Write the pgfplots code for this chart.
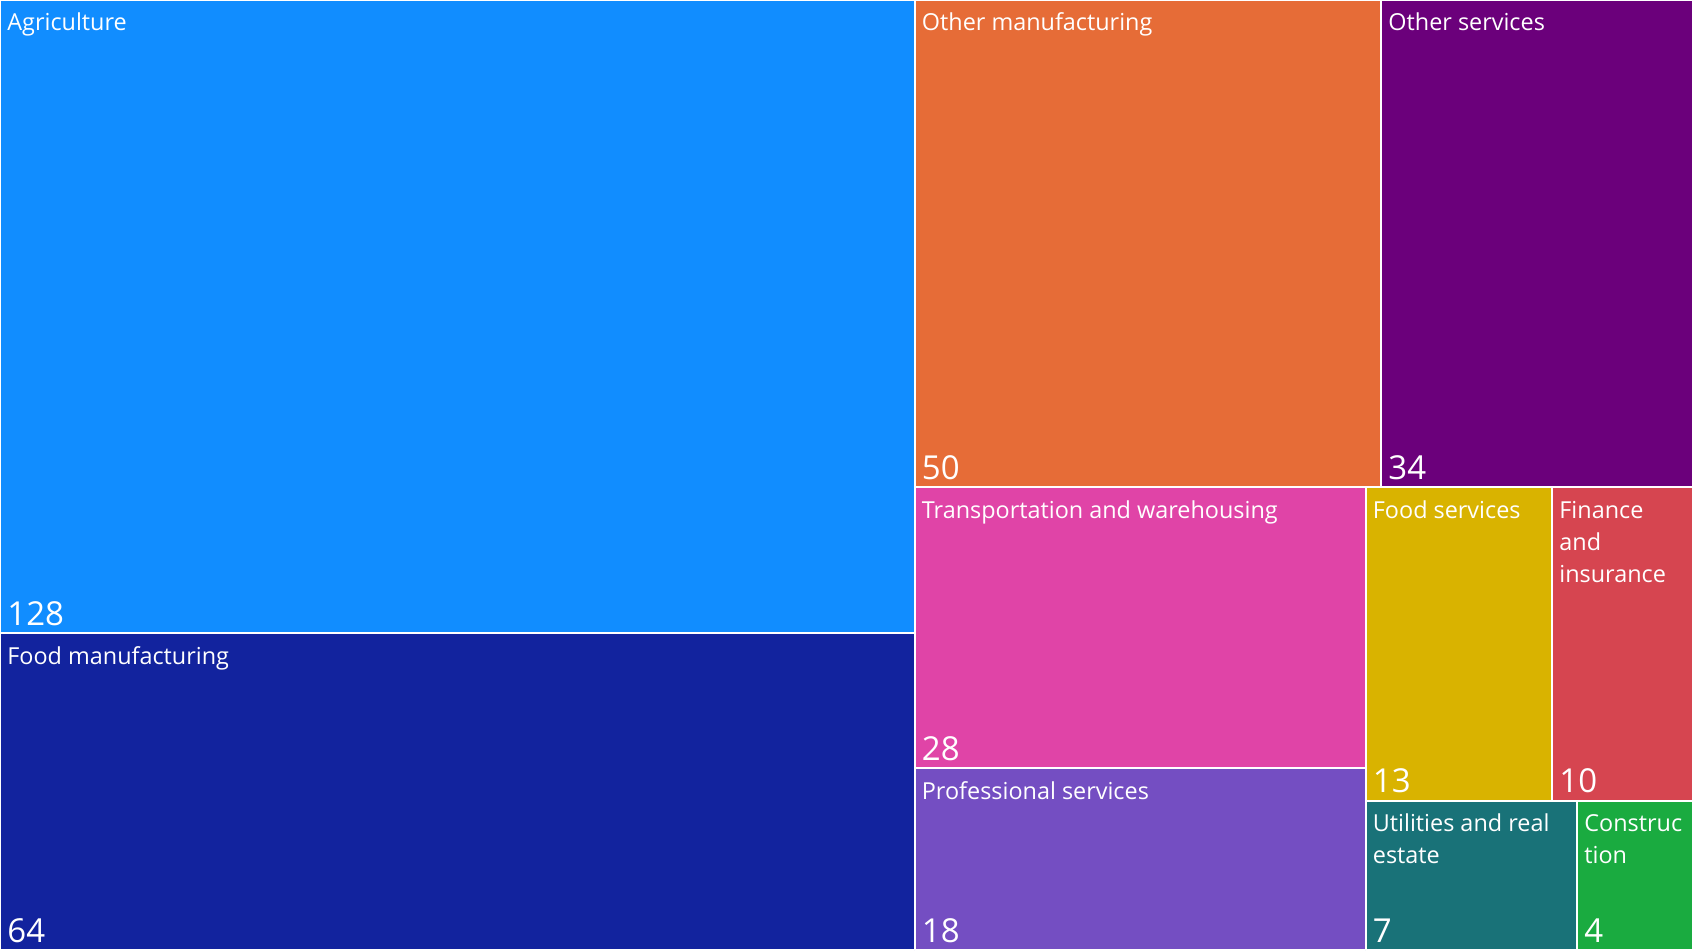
\documentclass[border=0pt]{standalone}
\usepackage{pgfplots}
\pgfplotsset{compat=1.18}
\usepackage{fontspec}
\setmainfont{Open Sans}

% Power BI default palette
\definecolor{cAgri}{HTML}{118DFF}
\definecolor{cFoodM}{HTML}{12239E}
\definecolor{cOthM}{HTML}{E66C37}
\definecolor{cOthS}{HTML}{6B007B}
\definecolor{cTrans}{HTML}{E044A7}
\definecolor{cProf}{HTML}{744EC2}
\definecolor{cFoodS}{HTML}{D9B300}
\definecolor{cFin}{HTML}{D64550}
\definecolor{cUtil}{HTML}{197278}
\definecolor{cCons}{HTML}{1AAB40}

\newcommand{\lblfont}{\fontsize{11.7}{16}\selectfont}
\newcommand{\valfont}{\fontsize{16.5}{18}\selectfont}

% tile: colour, x0, y0, x1, y1, label, value
\newcommand{\tile}[7]{%
  \addplot[fill=#1, draw=white, line width=1pt]
    coordinates {(#2,#3) (#4,#3) (#4,#5) (#2,#5) (#2,#3)};
  \node[anchor=base west, text=white, font=\lblfont, inner sep=0pt]
    at (axis cs:#2+7,#5-31) {\begin{tabular}[t]{@{}l@{}}#6\end{tabular}};
  \node[anchor=base west, text=white, font=\valfont, inner sep=0pt]
    at (axis cs:#2+7,#3+8) {#7};
}

\begin{document}
\begin{tikzpicture}
\begin{axis}[
    width=846.5pt, height=475pt,
    scale only axis,
    hide axis,
    xmin=0, xmax=1693,
    ymin=0, ymax=950,
    enlargelimits=false,
    clip=false,
]
% layout of the treemap (total 356), pixel units, y upwards
\tile{cAgri}{0}{317}{914.5}{950}{Agriculture}{128}
\tile{cFoodM}{0}{0}{914.5}{317}{Food manufacturing}{64}
\tile{cOthM}{914.5}{463}{1381}{950}{Other manufacturing}{50}
\tile{cOthS}{1381}{463}{1693}{950}{Other services}{34}
\tile{cTrans}{914.5}{182}{1365.5}{463}{Transportation and warehousing}{28}
\tile{cProf}{914.5}{0}{1365.5}{182}{Professional services}{18}
\tile{cFoodS}{1365.5}{149.5}{1552}{463}{Food services}{13}
\tile{cFin}{1552}{149.5}{1693}{463}{Finance\\and\\insurance}{10}
\tile{cUtil}{1365.5}{0}{1577}{149.5}{Utilities and real\\estate}{7}
\tile{cCons}{1577}{0}{1693}{149.5}{Construc\\tion}{4}
\end{axis}
\pgfresetboundingbox
\path (current axis.south west) rectangle (current axis.north east);
\end{tikzpicture}
\end{document}
